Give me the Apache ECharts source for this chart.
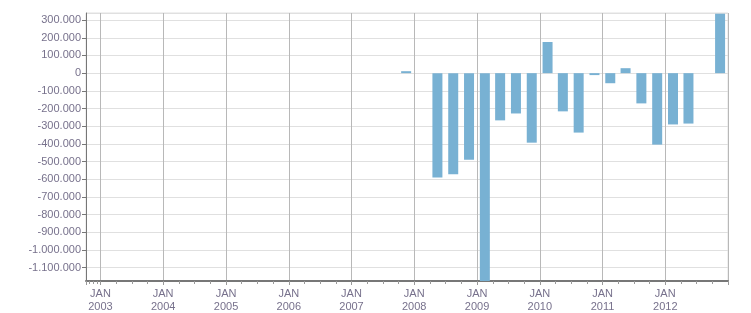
<!DOCTYPE html>
<html>
<head>
<meta charset="utf-8">
<script src="https://cdn.jsdelivr.net/npm/echarts@6/dist/echarts.min.js"></script>
<style>html,body{margin:0;padding:0;background:#fff}#c{width:751px;height:313px}</style>
</head>
<body>
<div id="c"></div>
<script>
// quarterly values (dates = mid second month of each quarter)
var dates = ['2007-11-15','2008-05-15','2008-08-15','2008-11-15','2009-02-15','2009-05-15','2009-08-15','2009-11-15','2010-02-15','2010-05-15','2010-08-15','2010-11-15','2011-02-15','2011-05-15','2011-08-15','2011-11-15','2012-02-15','2012-05-15','2012-11-15'];
var values = [11000,-590000,-572000,-489000,-1250000,-267000,-228000,-393000,176000,-216000,-336000,-11000,-57000,28000,-171000,-404000,-290000,-285000,336000];
// inner time extent (ECharts widens it by half a bar width on each side)
var xMin = '2002-11-07';
var xMax = '2012-12-02';
var yMin = -1175000;
var yMax = 340000;

var textColor = '#77718c';
function fmt(v){
  var s = Math.abs(v).toFixed(0).replace(/\B(?=(\d{3})+(?!\d))/g,'.');
  return (v<0?'-':'')+s;
}
var data = dates.map(function(d,i){return [d, values[i]];});
var chart = echarts.init(document.getElementById('c'), null, {renderer:'canvas'});
chart.setOption({
  animation:false,
  grid:{left:86,right:23,top:13,bottom:32,show:true,borderColor:'#e0e0e0',borderWidth:1,containLabel:false},
  xAxis:{
    type:'time',
    min:xMin, max:xMax,
    splitNumber:10,
    minInterval:365*24*3600*1000,
    maxInterval:366*24*3600*1000,
    axisLine:{show:true,onZero:false,lineStyle:{color:'#777',width:2}},
    axisTick:{show:true,length:4,lineStyle:{color:'#999'}},
    minorTick:{show:true,splitNumber:4,length:3,lineStyle:{color:'#999'}},
    splitLine:{show:true,lineStyle:{color:'#b8b8b8',width:1}},
    minorSplitLine:{show:false},
    axisLabel:{
      color:textColor,fontFamily:'Liberation Sans',fontSize:11,lineHeight:13,margin:6,
      hideOverlap:false,showMinLabel:false,showMaxLabel:false,
      formatter:function(v){var d=new Date(v);return 'JAN\n'+d.getFullYear();}
    }
  },
  yAxis:{
    type:'value',
    min:yMin,max:yMax,
    splitNumber:15,
    axisLine:{show:true,lineStyle:{color:'#777',width:1}},
    axisTick:{show:true,length:4,lineStyle:{color:'#777'}},
    splitLine:{show:true,lineStyle:{color:'#e0e0e0',width:1}},
    axisLabel:{
      color:textColor,fontFamily:'Liberation Sans',fontSize:11,margin:5,
      showMinLabel:false,showMaxLabel:false,
      formatter:function(v){ if(v===yMin||v===yMax) return ''; return fmt(v);}
    }
  },
  series:[{
    type:'bar',
    data:data,
    barWidth:10,
    clip:true,
    itemStyle:{color:'#78b1d3'}
  }]
});
</script>
</body>
</html>
